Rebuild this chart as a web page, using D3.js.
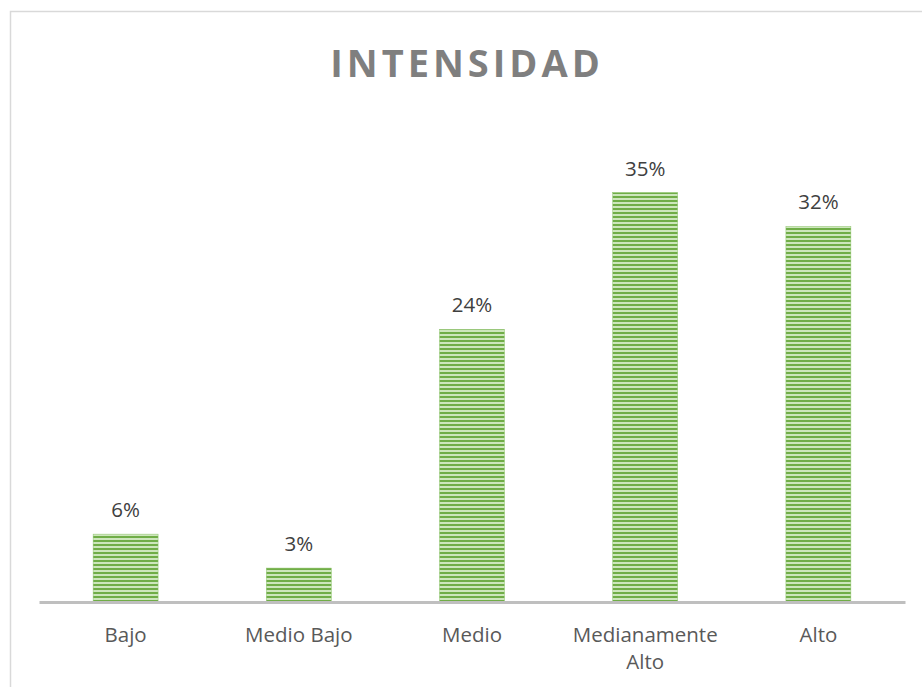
<!DOCTYPE html>
<html>
<head>
<meta charset="utf-8">
<script src="https://cdn.jsdelivr.net/npm/d3@7"></script>
<style>
  body { margin: 0; background: #fff; }
  svg { display: block; }
  text { font-family: "Open Sans", sans-serif; }
</style>
</head>
<body>
<svg></svg>
<script>
const categories = ["Bajo", "Medio Bajo", "Medio", "Medianamente Alto", "Alto"];
const values = [0.058, 0.029, 0.233, 0.35, 0.321];
const labels = ["6%", "3%", "24%", "35%", "32%"];

const width = 922;
const height = 687;

const svg = d3.select("svg")
    .attr("width", width)
    .attr("height", height);

// chart area border
svg.append("rect")
    .attr("x", 10.5).attr("y", 11.5)
    .attr("width", 930).attr("height", 700)
    .attr("fill", "#fff")
    .attr("stroke", "#d9d9d9")
    .attr("stroke-width", 1.5);

// striped fill
const defs = svg.append("defs");
const pat = defs.append("pattern")
    .attr("id", "stripes")
    .attr("patternUnits", "userSpaceOnUse")
    .attr("width", 8).attr("height", 4);
pat.append("rect").attr("width", 8).attr("height", 4).attr("fill", "#cde6bc");
pat.append("rect").attr("width", 8).attr("height", 2).attr("fill", "#70ad47");

const x = d3.scaleBand()
    .domain(categories)
    .range([39, 905])
    .paddingInner(0.625)
    .paddingOuter(0.3125);

const y = d3.scaleLinear()
    .domain([0, 0.4])
    .range([602, 134]);

// title
svg.append("text")
    .attr("x", 467).attr("y", 77)
    .attr("text-anchor", "middle")
    .attr("font-size", 38)
    .attr("font-weight", "bold")
    .attr("letter-spacing", 4)
    .attr("fill", "#7f7f7f")
    .text("INTENSIDAD");

// bars
svg.selectAll(".bar")
    .data(values)
    .enter()
    .append("rect")
    .classed("bar", true)
    .attr("x", (d, i) => x(categories[i]))
    .attr("y", d => y(d))
    .attr("width", x.bandwidth())
    .attr("height", d => y(0) - y(d))
    .attr("fill", "url(#stripes)")
    .attr("stroke", "#8cc36a")
    .attr("stroke-width", 0.5);

// data labels
svg.selectAll(".lbl")
    .data(values)
    .enter()
    .append("text")
    .attr("x", (d, i) => x(categories[i]) + x.bandwidth() / 2)
    .attr("y", d => y(d) - 17)
    .attr("text-anchor", "middle")
    .attr("font-size", 20.5)
    .attr("fill", "#404040")
    .text((d, i) => labels[i]);

// x axis
const axis = svg.append("g")
    .attr("transform", `translate(0,${y(0)})`)
    .call(d3.axisBottom(x).tickSize(0).tickPadding(0));
axis.select(".domain").attr("stroke", "#bfbfbf").attr("stroke-width", 3);
axis.selectAll(".tick text").remove();

// category labels (wrap the long one)
const wrap = { "Medianamente Alto": ["Medianamente", "Alto"] };
axis.selectAll(".tick").each(function(d) {
    const lines = wrap[d] || [d];
    const t = d3.select(this).append("text")
        .attr("text-anchor", "middle")
        .attr("font-size", 20.5)
        .attr("fill", "#595959");
    lines.forEach((s, k) => {
        t.append("tspan").attr("x", 0).attr("y", 40 + k * 27).text(s);
    });
});
</script>
</body>
</html>
